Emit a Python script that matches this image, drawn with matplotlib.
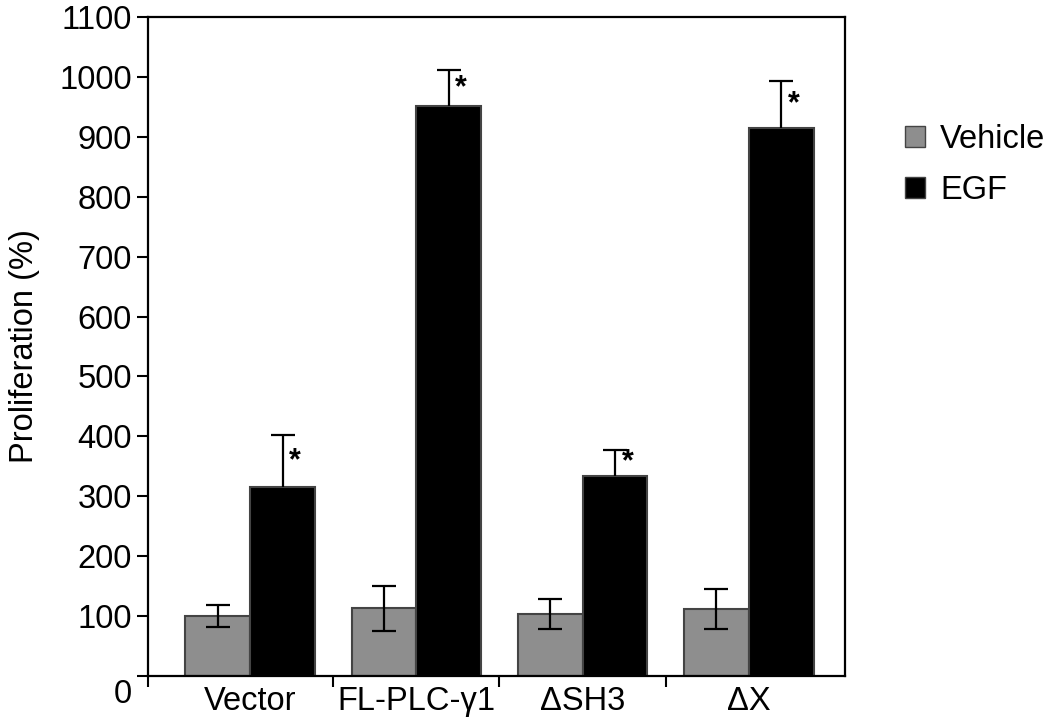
import numpy as np
import matplotlib.pyplot as plt
import matplotlib.transforms as mtransforms
from matplotlib.patches import Patch

plt.rcParams['font.family'] = ['Liberation Sans', 'DejaVu Sans']

# data
groups = ['Vector', 'FL-PLC-\u03b31', '\u0394SH3', '\u0394X']
vehicle = [100, 113, 103, 112]
vehicle_err = [18, 38, 25, 34]
egf = [315, 951, 334, 915]
egf_err = [87, 61, 44, 78]
yticks = list(range(0, 1101, 100))

FS = 23.5

fig = plt.figure(figsize=(10.5, 7.19), dpi=100)
ax = fig.add_axes([0.141, 0.0598, 0.664, 0.9166])

x = np.arange(len(groups))
w = 0.39
ekw = dict(ecolor='black', elinewidth=1.6, capsize=8.5, capthick=1.6)
ax.bar(x - w / 2, vehicle, w, color='#8e8e8e', edgecolor='#444444', linewidth=1.5,
       yerr=vehicle_err, error_kw=ekw)
bars = ax.bar(x + w / 2, egf, w, color='black', edgecolor='#444444', linewidth=1.5,
              yerr=[np.zeros(len(egf)), egf_err], error_kw=ekw)
# only the upper cap is shown on the EGF bars
bars.errorbar.lines[1][0].set_visible(False)

# significance stars
for xi, v, e in zip(x, egf, egf_err):
    ax.text(xi + w / 2 + 0.04, v + e * 0.5, '*', fontsize=22, fontweight='bold',
            ha='left', va='center')

ax.set_xlim(-0.614, 3.58)
ax.set_ylim(0, 1100)
ax.set_yticks(yticks)
ax.tick_params(axis='y', labelsize=FS, length=8, width=1.5, direction='out')

# group boundaries as major ticks, names as minor labels
ax.set_xticks([-0.614, 0.5, 1.5, 2.5])
ax.set_xticklabels([])
ax.set_xticks(x, minor=True)
ax.set_xticklabels(groups, minor=True, fontsize=FS)
ax.tick_params(axis='x', which='major', length=8, width=1.5, direction='out')
ax.tick_params(axis='x', which='minor', length=0, pad=7)

# the "0" label sits a bit lower in the original
lab0 = ax.yaxis.get_major_ticks()[0].label1
lab0.set_transform(lab0.get_transform() +
                   mtransforms.ScaledTranslation(0, -0.15, fig.dpi_scale_trans))

for s in ax.spines.values():
    s.set_linewidth(1.6)

ax.set_ylabel('Proliferation (%)', fontsize=FS)
ax.yaxis.set_label_coords(-0.155, 0.5)

handles = [Patch(facecolor='#8e8e8e', edgecolor='#444444', label='Vehicle'),
           Patch(facecolor='black', edgecolor='#444444', label='EGF')]
fig.legend(handles=handles, loc='upper left', bbox_to_anchor=(0.834, 0.868),
           frameon=False, fontsize=FS, handlelength=0.62, handleheight=0.62,
           handletextpad=0.45, labelspacing=0.6)

fig.savefig('out.png', dpi=100)
